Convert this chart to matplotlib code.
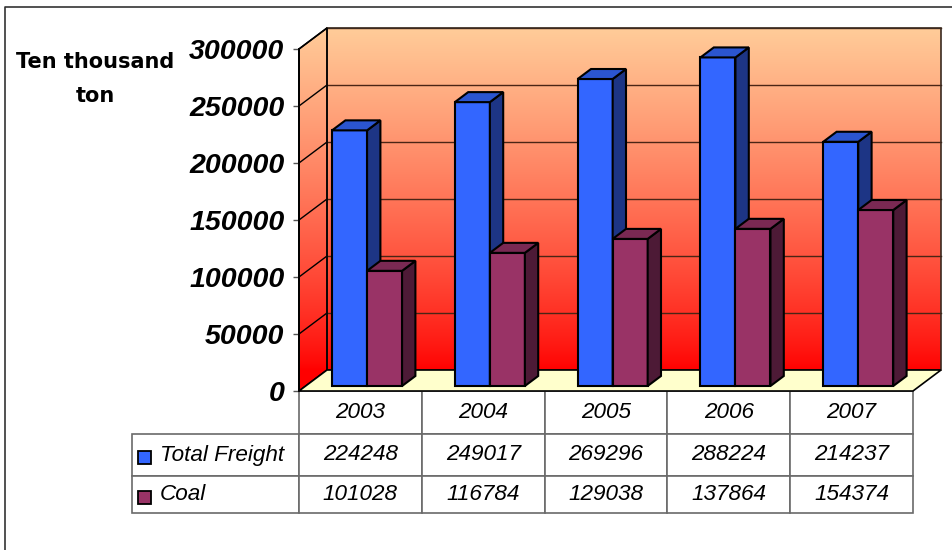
import numpy as np
import matplotlib.pyplot as plt
from matplotlib.patches import Polygon, Rectangle
from matplotlib.table import Table
from matplotlib.lines import Line2D

years = ['2003', '2004', '2005', '2006', '2007']
freight = [224248, 249017, 269296, 288224, 214237]
coal = [101028, 116784, 129038, 137864, 154374]
series = ['Total Freight', 'Coal']
yticks = [0, 50000, 100000, 150000, 200000, 250000, 300000]

plt.rcParams['font.family'] = ['Liberation Sans', 'DejaVu Sans']

W, H = 953, 550
fig = plt.figure(figsize=(W / 100, H / 100), dpi=100)
# axes = front plane of the 3d box
ax = fig.add_axes([299 / W, 1 - 391 / H, 614 / W, 342 / H])
ymax = 300000
x0, x1 = -0.5, len(years) - 0.5

# depth of the box (category units / value units)
DX = 28 / 122.8
DY = 21 / 342 * ymax

# gradient for the walls (red at the floor -> peach at the top)
yy = np.linspace(0, ymax + DY, 300)
t = np.clip((yy - DY) / ymax, 0, 1)[:, None] ** 0.8
red = np.array([1.0, 0.0, 0.0])
peach = np.array([1.0, 0.80, 0.60])
grad = (red + t * (peach - red))[:, None, :]

back = Polygon([(x0 + DX, DY), (x1 + DX, DY), (x1 + DX, ymax + DY), (x0 + DX, ymax + DY)],
               closed=True, facecolor='none', edgecolor='#3a2a20', lw=1.2, zorder=1.2, clip_on=False)
left = Polygon([(x0, 0), (x0 + DX, DY), (x0 + DX, ymax + DY), (x0, ymax)],
               closed=True, facecolor='none', edgecolor='black', lw=1.2, zorder=1.2, clip_on=False)
ax.add_patch(back)
ax.add_patch(left)
for poly in (back, left):
    im = ax.imshow(grad, extent=[x0, x1 + DX, 0, ymax + DY], origin='lower',
                   aspect='auto', zorder=0.5, interpolation='bilinear')
    im.set_clip_path(poly)
    im.set_clip_box(fig.bbox)

# grid lines on back wall and side wall
for v in yticks[1:]:
    ax.plot([x0 + DX, x1 + DX], [v + DY, v + DY], color='#4a2515', lw=1.0, zorder=1, clip_on=False)
    ax.plot([x0, x0 + DX], [v, v + DY], color='black', lw=1.0, zorder=1, clip_on=False)

# floor
floor = Polygon([(x0, 0), (x0 + DX, DY), (x1 + DX, DY), (x1, 0)], closed=True,
                facecolor='#FFFFCC', edgecolor='black', lw=1.2, zorder=1.5, clip_on=False)
ax.add_patch(floor)

# bars
f0, f1 = 5 / 21, 15 / 21
ox, oy = f0 * DX, f0 * DY
ddx, ddy = (f1 - f0) * DX, (f1 - f0) * DY
bw = 35 / 122.8
front_c = ['#3366FF', '#993366']
side_c = ['#1D3585', '#4D1A36']
top_c = ['#2B55D0', '#7A2953']
xs = np.arange(len(years))
for k, vals in enumerate([freight, coal]):
    z = 3 + k
    lefts = xs + ox + (k - 1) * bw
    ax.bar(lefts, vals, width=bw, bottom=oy, align='edge', color=front_c[k],
           edgecolor='black', lw=1.5, zorder=z, clip_on=False)
    for xl, v in zip(lefts, vals):
        xr = xl + bw
        top = oy + v
        ax.add_patch(Polygon([(xr, oy), (xr + ddx, oy + ddy), (xr + ddx, top + ddy), (xr, top)],
                             closed=True, facecolor=side_c[k], edgecolor='black', lw=1.5,
                             zorder=z, clip_on=False))
        ax.add_patch(Polygon([(xl, top), (xl + ddx, top + ddy), (xr + ddx, top + ddy), (xr, top)],
                             closed=True, facecolor=top_c[k], edgecolor='black', lw=1.5,
                             zorder=z, clip_on=False))

ax.set_xlim(x0, x1)
ax.set_ylim(0, ymax)
ax.set_xticks([])
ax.set_yticks(yticks)
ax.set_yticklabels([str(v) for v in yticks], fontsize=20.5, fontweight='bold', fontstyle='italic')
ax.tick_params(axis='y', length=4.5, width=1, color='#555555', pad=6)
for s in ['top', 'right', 'bottom']:
    ax.spines[s].set_visible(False)
ax.spines['left'].set_linewidth(1.4)
ax.spines['left'].set_zorder(2)
ax.patch.set_visible(False)

# data table under the plot (col 0 = series names, row 0 = years)
tab = Table(ax, bbox=[(132 - 299) / 614, -(513 - 391) / 342, (913 - 132) / 614, (513 - 391) / 342])
cw, lw_ = 122.8, 167
heights = [43, 42, 37]
for j, yr in enumerate(years, start=1):
    tab.add_cell(0, j, width=cw, height=heights[0], text=yr, loc='center')
for r, (name, vals) in enumerate(zip(series, [freight, coal]), start=1):
    c = tab.add_cell(r, 0, width=lw_, height=heights[r], text=name, loc='left')
    c.PAD = 28 / lw_
    for j, v in enumerate(vals, start=1):
        tab.add_cell(r, j, width=cw, height=heights[r], text=str(v), loc='center')
tab.auto_set_font_size(False)
tab.set_fontsize(16.2)
for cell in tab.get_celld().values():
    cell.get_text().set_fontstyle('italic')
    cell.set_edgecolor('#6a6a6a')
    cell.set_linewidth(1.2)
    cell.set_facecolor('white')
ax.add_table(tab)

# legend keys in the table
key_y = [457.5, 497.5]
for k, yc in enumerate(key_y):
    ax.add_patch(Rectangle(((138 - 299) / 614, (391 - yc - 6.5) / 342), 13 / 614, 13 / 342,
                           transform=ax.transAxes, facecolor=front_c[k], edgecolor='black',
                           lw=1.3, clip_on=False, zorder=6))

# axis title
fig.text(95 / W, 1 - 68 / H, 'Ten thousand', ha='center', va='baseline', fontsize=15,
         fontweight='bold', family='DejaVu Sans')
fig.text(95 / W, 1 - 102 / H, 'ton', ha='center', va='baseline', fontsize=15,
         fontweight='bold', family='DejaVu Sans')

# outer frame
fig.add_artist(Line2D([5 / W, 5 / W, 1], [0, 1 - 7 / H, 1 - 7 / H], transform=fig.transFigure,
                      color='#333333', lw=1.2))

fig.savefig('out.png', dpi=100)
